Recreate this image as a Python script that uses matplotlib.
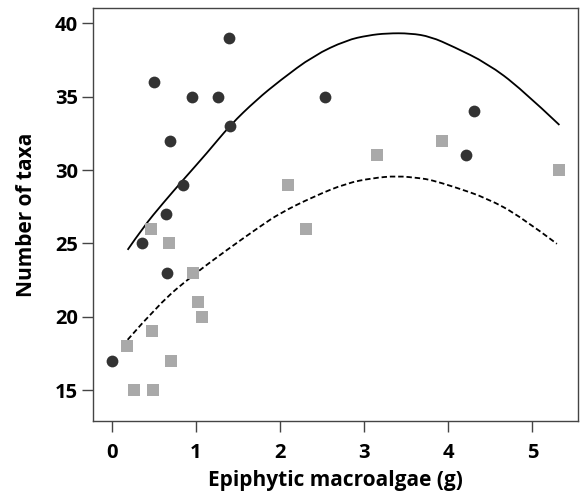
import matplotlib
matplotlib.use("Agg")
import matplotlib.pyplot as plt
from matplotlib.path import Path
from matplotlib.patches import PathPatch

plt.rcParams["font.family"] = ["Open Sans", "DejaVu Sans"]

# dark circles
circle_x = [0.01, 0.36, 0.50, 0.65, 0.66, 0.69, 0.85, 0.96, 1.26, 1.40, 1.41, 2.53, 4.21, 4.30]
circle_y = [17, 25, 36, 27, 23, 32, 29, 35, 35, 39, 33, 35, 31, 34]

# grey squares
square_x = [0.18, 0.27, 0.49, 0.48, 0.47, 0.68, 0.71, 0.97, 1.03, 1.07, 2.09, 2.31, 3.15, 3.93, 5.31]
square_y = [18, 15, 15, 19, 26, 25, 17, 23, 21, 20, 29, 26, 31, 32, 30]

# fitted curves
solid_x = [0.19, 0.38, 0.61, 0.85, 1.13, 1.41, 1.72, 2.00, 2.40, 2.79, 3.05,
           3.27, 3.55, 3.79, 4.06, 4.46, 4.86, 5.32]
solid_y = [24.56, 26.14, 27.74, 29.33, 31.14, 33.07, 34.78, 36.10, 37.80, 38.85, 39.18,
           39.32, 39.32, 39.09, 38.41, 37.28, 35.57, 33.07]

dashed_x = [0.19, 0.57, 0.97, 1.37, 1.76, 2.00, 2.40, 2.79, 3.10, 3.39,
            3.67, 3.79, 4.06, 4.46, 4.86, 5.29]
dashed_y = [18.43, 20.93, 22.85, 24.56, 26.14, 27.06, 28.19, 29.10, 29.45, 29.60,
            29.44, 29.33, 28.87, 28.08, 26.83, 24.97]

x_ticks = [0, 1, 2, 3, 4, 5]
y_ticks = [15, 20, 25, 30, 35, 40]


def smooth_path(xs, ys):
    """
    Quadratic bezier path through segment midpoints, using the read points
    as control points, so the line is drawn smooth.
    """
    pts = list(zip(xs, ys))
    verts = [pts[0]]
    codes = [Path.MOVETO]
    for i in range(1, len(pts) - 1):
        mid = ((pts[i][0] + pts[i + 1][0]) / 2, (pts[i][1] + pts[i + 1][1]) / 2)
        if i == len(pts) - 2:
            mid = pts[-1]
        verts += [pts[i], mid]
        codes += [Path.CURVE3, Path.CURVE3]
    return Path(verts, codes)


fig = plt.figure(figsize=(5.82, 4.94), dpi=100)
ax = fig.add_axes([0.160, 0.148, 0.833, 0.836])

ax.add_patch(PathPatch(smooth_path(solid_x, solid_y), fill=False, edgecolor="black",
                       linewidth=1.3, zorder=2))
ax.add_patch(PathPatch(smooth_path(dashed_x, dashed_y), fill=False, edgecolor="black",
                       linewidth=1.3, linestyle=(0, (3, 1.6)), zorder=2))

ax.scatter(square_x, square_y, marker="s", s=72, color="#a9a9a9", linewidths=0, zorder=3)
ax.scatter(circle_x, circle_y, marker="o", s=72, color="#333333", linewidths=0, zorder=4)

ax.set_xlim(-0.22, 5.54)
ax.set_ylim(12.9, 41.05)
ax.set_xticks(x_ticks)
ax.set_yticks(y_ticks)

for side in ax.spines.values():
    side.set_color("#444444")
    side.set_linewidth(1.0)

ax.tick_params(axis="both", direction="out", length=8, width=1.0, color="#444444",
               labelsize=14.5, pad=3)
ax.tick_params(axis="x", pad=8)
for lab in ax.get_xticklabels() + ax.get_yticklabels():
    lab.set_fontweight("bold")

ax.set_xlabel("Epiphytic macroalgae (g)", fontsize=15, fontweight="bold", labelpad=5)
ax.set_ylabel("Number of taxa", fontsize=15, fontweight="bold", labelpad=13)

fig.savefig("out.png", dpi=100)
